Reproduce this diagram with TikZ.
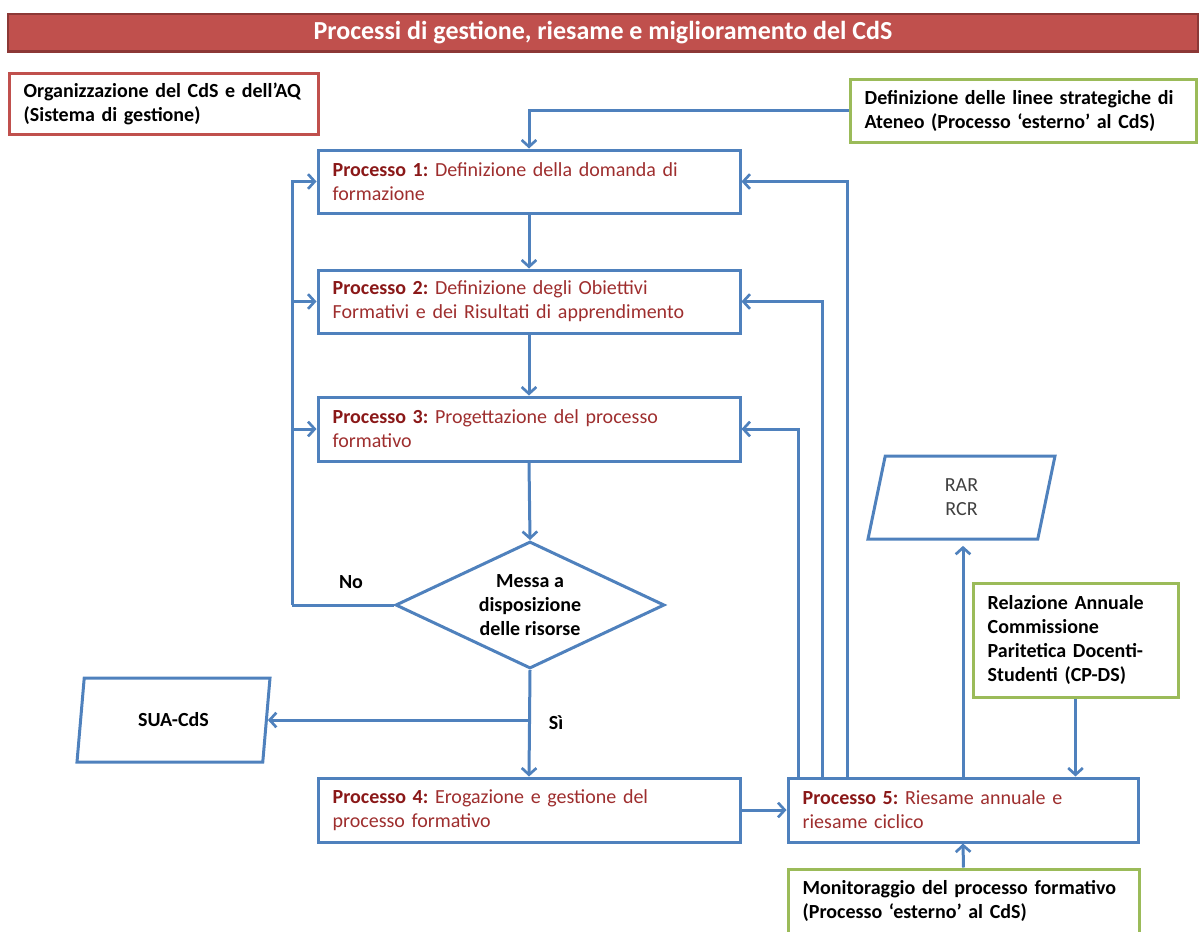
\documentclass[tikz,border=0pt]{standalone}
\usepackage{fontspec}
\setmainfont{Carlito}
\usepackage{xcolor}
\definecolor{FlowBlue}{HTML}{4F81BD}
\definecolor{FlowGreen}{HTML}{9BBB59}
\definecolor{FlowRed}{HTML}{C0504D}
\definecolor{FlowRedDark}{HTML}{8C3836}
\definecolor{ProcRed}{HTML}{9E2E2E}
\definecolor{ProcRedDark}{HTML}{8A1818}
\usetikzlibrary{calc,positioning}
\usetikzlibrary{arrows.meta,shapes.geometric}
\tikzset{>=latex}
\tikzstyle{flowarr}=[FlowBlue,line width=2.25pt,-{Straight Barb[length=5pt,width=11pt,line width=2pt]}]
\tikzstyle{flowline}=[FlowBlue,line width=2.25pt]
\newcommand\procname[2]{{\bfseries\color{ProcRedDark}Processo #1:} #2}
\frenchspacing

\begin{document}
\begin{tikzpicture}[x=0.75pt,y=-0.75pt,
		every node/.style={font=\fontsize{15}{18}\selectfont},
		procbox/.style={draw=FlowBlue,line width=2.25pt,rectangle,align=left,inner xsep=11pt,
			text width=294.5pt,minimum height=47.25pt,text=ProcRed},
		extbox/.style={draw=FlowGreen,line width=2.25pt,rectangle,align=left,inner xsep=11pt,
			font=\fontsize{15}{18}\selectfont\bfseries},
		orgbox/.style={draw=FlowRed,line width=2.25pt,rectangle,align=left,inner xsep=11pt,
			font=\fontsize{15}{18}\selectfont\bfseries},
		datashape/.style={draw=FlowBlue,line width=2.25pt,trapezium,trapezium stretches body,
			align=center,inner sep=0pt}]
	
	\useasboundingbox (0,0) rectangle (1200,932);
	
	%% TITLE BAR
	\node[draw=FlowRedDark,fill=FlowRed,line width=1.5pt,minimum width=892.5pt,minimum height=28.5pt,
		text=white,font=\fontsize{19.5}{22}\selectfont\bfseries] (title) at (603,33)
		{Processi di gestione, riesame e miglioramento del CdS};
	\draw[FlowRedDark,line width=2.5pt] ([yshift=1pt]title.south west) -- ([yshift=1pt]title.south east);
	
	%% SIDE BOXES
	\node[orgbox,text width=209.75pt,minimum height=45.75pt] (org) at (163.5,103.5)
		{Organizzazione del CdS e dell’AQ\\(Sistema di gestione)};
	\node[extbox,text width=237.5pt,minimum height=47.25pt] (ateneo) at (1023,110.5)
		{Definizione delle linee strategiche di\\Ateneo (Processo ‘esterno’ al CdS)};
	\node[extbox,text width=131.75pt,minimum height=85.5pt] (cpds) at (1075.5,640)
		{Relazione Annuale\\Commissione\\Paritetica Docenti-\\Studenti (CP-DS)};
	\node[extbox,text width=241.25pt,minimum height=48pt] (monit) at (963.5,901)
		{Monitoraggio del processo formativo\\(Processo ‘esterno’ al CdS)};
	
	%% PROCESS BOXES
	\node[procbox] (p1) at (529,181.5) {\procname{1}{Definizione della domanda di\\formazione}};
	\node[procbox] (p2) at (529,301.5) {\procname{2}{Definizione degli Obiettivi\\Formativi e dei Risultati di apprendimento}};
	\node[procbox,minimum height=48pt] (p3) at (529,429) {\procname{3}{Progettazione del processo\\formativo}};
	\node[procbox,minimum height=48pt] (p4) at (529,810) {\procname{4}{Erogazione e gestione del\\processo formativo}};
	\node[procbox,text width=240.5pt,minimum height=48pt] (p5) at (963,810) {\procname{5}{Riesame annuale e\\riesame ciclico}};
	
	%% DECISION
	\node[draw=FlowBlue,line width=2.25pt,diamond,shape aspect=2.1,inner sep=0pt,align=center,
		minimum width=201.75pt,minimum height=95.25pt,font=\fontsize{15}{18}\selectfont\bfseries]
		(dec) at (530,605) {Messa a\\disposizione\\delle risorse};
	
	%% DOCUMENTS
	\node[datashape,trapezium left angle=63,trapezium right angle=117,minimum width=144.75pt,minimum height=63pt,
		font=\fontsize{15}{18}\selectfont\bfseries] (sua) at (173.5,720) {SUA-CdS};
	\node[datashape,trapezium left angle=65,trapezium right angle=115,minimum width=140.25pt,minimum height=62.25pt,
		text=black!75] (rar) at (961.5,497.5) {RAR\\RCR};
	
	%% MAIN FLOW
	\draw[flowarr] (ateneo.west) -| (p1.north);
	\draw[flowarr] (p1.south) -- (p2.north);
	\draw[flowarr] (p2.south) -- (p3.north);
	\draw[flowarr] (p3.south) -- (dec.north);
	\draw[flowarr] (dec.south) -- (p4.north);
	\draw[flowarr] (p4.east) -- (p5.west);
	
	%% NO BRANCH
	\coordinate (nocorner) at (292,605);
	\draw[flowline] (dec.west) -- (nocorner);
	\draw[flowarr] (nocorner) |- (p1.west);
	\draw[flowarr] (nocorner |- p2.west) -- (p2.west);
	\draw[flowarr] (nocorner |- p3.west) -- (p3.west);
	\node[font=\fontsize{15}{18}\selectfont\bfseries] (nolabel) at (351,582) {No};
	
	%% YES BRANCH
	\coordinate (sibranch) at (dec.south |- sua.east);
	\draw[flowarr] (sibranch) -- (sua.east);
	\node[font=\fontsize{15}{18}\selectfont\bfseries] (silabel) at (556,723) {Sì};
	
	%% FEEDBACK FROM PROCESS 5
	\draw[flowarr] ($(p5.north west)+(12,0)$) |- (p3.east);
	\draw[flowarr] ($(p5.north west)+(36,0)$) |- (p2.east);
	\draw[flowarr] ($(p5.north west)+(61,0)$) |- (p1.east);
	
	%% REPORTS AND INPUTS
	\draw[flowarr,shorten >=4pt] (p5.north) -- (p5.north |- rar.south);
	\draw[flowarr] (cpds.south) -- (cpds.south |- p5.north);
	\draw[flowarr] (monit.north) -- (p5.south);
	
\end{tikzpicture}
\end{document}
